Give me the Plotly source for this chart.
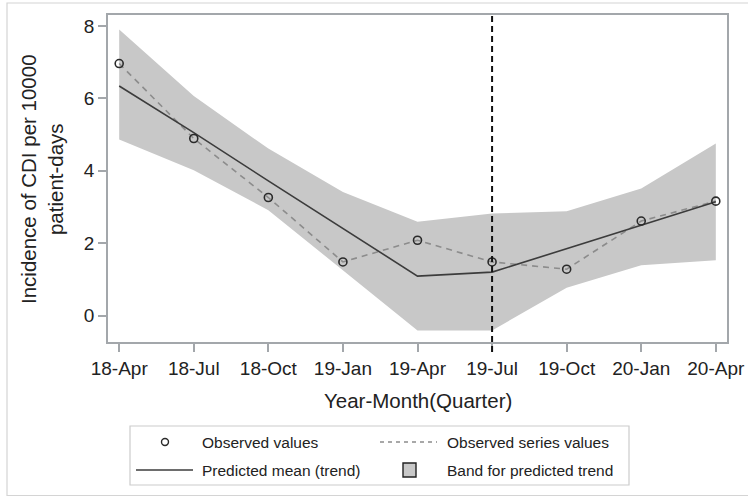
import plotly.graph_objects as go

quarters = ["18-Apr", "18-Jul", "18-Oct", "19-Jan", "19-Apr", "19-Jul", "19-Oct", "20-Jan", "20-Apr"]
observed = [6.96, 4.89, 3.26, 1.48, 2.08, 1.48, 1.28, 2.61, 3.16]
predicted = [6.34, 5.05, 3.72, 2.41, 1.09, 1.20, 1.85, 2.50, 3.14]
band_upper = [7.90, 6.06, 4.61, 3.41, 2.59, 2.82, 2.88, 3.51, 4.75]
band_lower = [4.86, 4.01, 2.91, 1.25, -0.41, -0.41, 0.77, 1.39, 1.53]
intervention = "19-Jul"

x_idx = list(range(len(quarters)))
interv_idx = quarters.index(intervention)

W, H = 748, 497
ML, MR, MT, MB = 108, 21, 15, 155
PW, PH = W - ML - MR, H - MT - MB


def px(xp):
    return (xp - ML) / PW


def py(yp):
    return (H - MB - yp) / PH


FONT = "Liberation Sans, Arial, sans-serif"
TXT = "#222222"
AXC = "#a3a7ab"

fig = go.Figure()

# band
fig.add_trace(go.Scatter(x=x_idx, y=band_upper, mode="lines", line=dict(width=0, color="#c8c8c8"),
                         hoverinfo="skip", showlegend=False))
fig.add_trace(go.Scatter(x=x_idx, y=band_lower, mode="lines", line=dict(width=0, color="#c8c8c8"),
                         fill="tonexty", fillcolor="#c8c8c8", hoverinfo="skip", showlegend=False))
# observed series dashed
fig.add_trace(go.Scatter(x=x_idx, y=observed, mode="lines",
                         line=dict(color="#8c8c8c", width=1.6, dash="6px,5px"), showlegend=False))
# predicted trend
fig.add_trace(go.Scatter(x=x_idx, y=predicted, mode="lines",
                         line=dict(color="#3c3c3c", width=1.6), showlegend=False))
# observed points
fig.add_trace(go.Scatter(x=x_idx, y=observed, mode="markers",
                         marker=dict(symbol="circle-open", size=8, color="#2a2a2a", line=dict(width=1.6)),
                         showlegend=False))

shapes = []
# intervention line
shapes.append(dict(type="line", xref="x", yref="paper", x0=interv_idx, x1=interv_idx, y0=py(352), y1=1,
                   line=dict(color="#111111", width=2, dash="6px,4px")))
# outer frame
shapes.append(dict(type="rect", xref="paper", yref="paper", x0=px(7), x1=px(800), y0=py(495.5), y1=py(3),
                   line=dict(color="#d4d4d4", width=1.2)))
# legend box
shapes.append(dict(type="rect", xref="paper", yref="paper", x0=px(130), x1=px(629), y0=py(485), y1=py(426),
                   line=dict(color="#cccccc", width=1.2), fillcolor="rgba(0,0,0,0)"))
# legend symbols
shapes.append(dict(type="line", xref="paper", yref="paper", x0=px(380), x1=px(437), y0=py(442), y1=py(442),
                   line=dict(color="#8c8c8c", width=1.4, dash="4px,4px")))
shapes.append(dict(type="line", xref="paper", yref="paper", x0=px(136), x1=px(193), y0=py(470), y1=py(470),
                   line=dict(color="#3c3c3c", width=1.6)))
shapes.append(dict(type="rect", xref="paper", yref="paper", x0=px(403), x1=px(416), y0=py(477), y1=py(463),
                   line=dict(color="#222222", width=1.4), fillcolor="#c8c8c8"))
shapes.append(dict(type="circle", xref="paper", yref="paper", x0=px(161.5), x1=px(168.5), y0=py(445.5), y1=py(438.5),
                   line=dict(color="#2a2a2a", width=1.4)))

annotations = []
annotations.append(dict(text="Incidence of CDI per 10000<br>patient-days", xref="paper", yref="paper",
                        x=px(42), y=py(179), xanchor="center", yanchor="middle", textangle=-90,
                        showarrow=False, font=dict(family=FONT, size=20.5, color=TXT)))
annotations.append(dict(text="Year-Month(Quarter)", xref="paper", yref="paper",
                        x=0.5, y=py(401), xanchor="center", yanchor="middle",
                        showarrow=False, font=dict(family=FONT, size=20.5, color=TXT)))
leg_font = dict(family=FONT, size=15.5, color=TXT)
for text, xl, yc in [("Observed values", 200, 442), ("Observed series values", 445, 442),
                     ("Predicted mean (trend)", 200, 470), ("Band for predicted trend", 445, 470)]:
    annotations.append(dict(text=text, xref="paper", yref="paper", x=px(xl), y=py(yc),
                            xanchor="left", yanchor="middle", showarrow=False, font=leg_font))

fig.update_layout(
    width=W, height=H,
    margin=dict(l=ML, r=MR, t=MT, b=MB, autoexpand=False),
    paper_bgcolor="white", plot_bgcolor="white",
    showlegend=False,
    shapes=shapes, annotations=annotations,
    font=dict(family=FONT, color=TXT),
)
fig.update_xaxes(range=[-0.15, 8.15], tickmode="array", tickvals=x_idx, ticktext=quarters,
                 showgrid=False, zeroline=False, showline=True, mirror=True, linecolor=AXC, linewidth=1.5,
                 ticks="outside", ticklen=8, tickcolor=AXC, tickwidth=1.5,
                 tickfont=dict(family=FONT, size=19, color=TXT))
fig.update_yaxes(range=[-0.73, 8.30], tickmode="array", tickvals=[0, 2, 4, 6, 8],
                 showgrid=False, zeroline=False, showline=True, mirror=True, linecolor=AXC, linewidth=1.5,
                 ticks="outside", ticklen=8, tickcolor=AXC, tickwidth=1.5,
                 tickfont=dict(family=FONT, size=19, color=TXT))

fig.write_html("out.html", config={"displayModeBar": False},
               post_script="document.body.style.margin='0px';document.body.style.overflow='hidden';")
